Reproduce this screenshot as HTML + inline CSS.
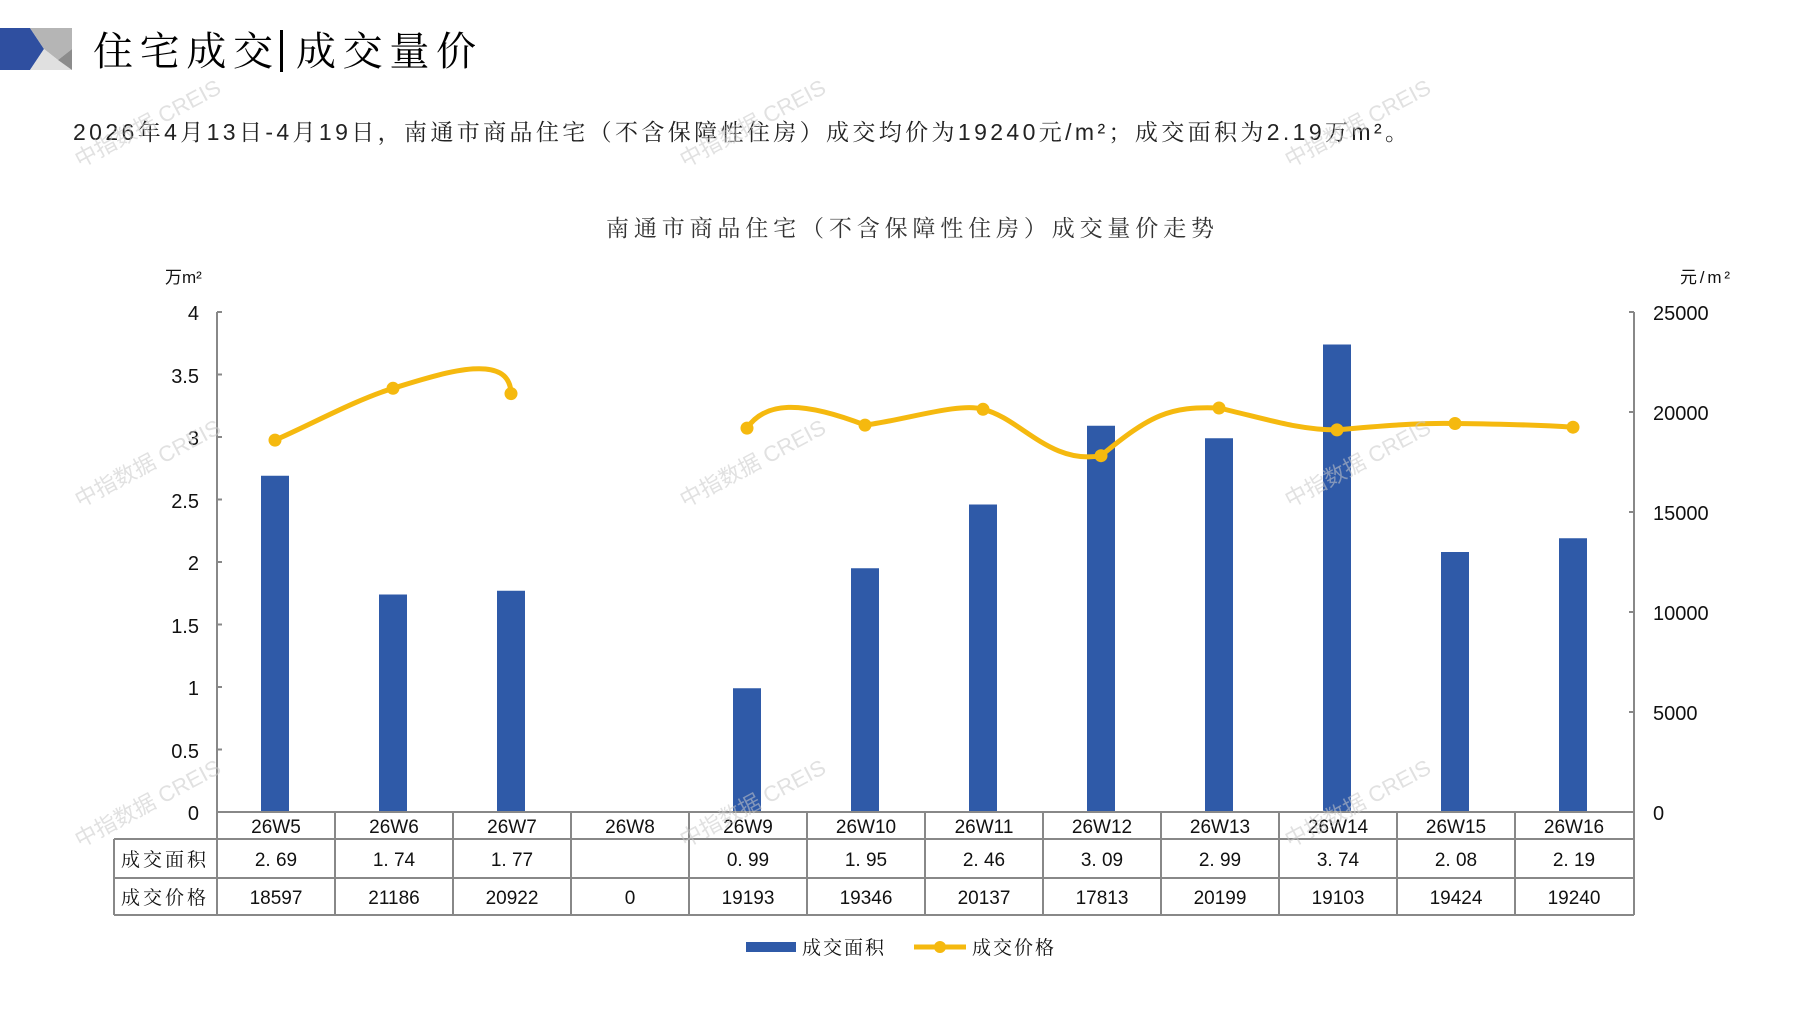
<!DOCTYPE html>
<html><head><meta charset="utf-8"><style>
html,body{margin:0;padding:0;background:#fff;}
svg{display:block;}
</style></head><body>
<svg width="1797" height="1010" viewBox="0 0 1797 1010" xmlns="http://www.w3.org/2000/svg" font-family="'Liberation Sans','Noto Sans CJK SC',sans-serif">
<!-- logo -->
<polygon points="0,28 30,28 44,49 30,70 0,70" fill="#2f4fa0"/>
<polygon points="44,49 30,28 72,28 72,49 58,60" fill="#b5b5b5"/>
<polygon points="30,70 44,49 58,60 72,70" fill="#e0e0e0"/>
<polygon points="58,60 72,49 72,70" fill="#8c8c8c"/>
<text x="93" y="65" font-size="40" font-family="'Noto Serif CJK SC',serif" fill="#000" textLength="180" lengthAdjust="spacing">住宅成交</text>
<rect x="280" y="30" width="3" height="42" fill="#000"/>
<text x="296" y="65" font-size="40" font-family="'Noto Serif CJK SC',serif" fill="#000" textLength="180" lengthAdjust="spacing">成交量价</text>
<text x="73" y="140" font-size="23" font-family="'Liberation Sans','Noto Serif CJK SC',serif" fill="#222" textLength="1335" lengthAdjust="spacing">2026年4月13日-4月19日，南通市商品住宅（不含保障性住房）成交均价为19240元/m²；成交面积为2.19万m²。</text>
<text x="606" y="236" font-size="23" font-family="'Noto Serif CJK SC',serif" fill="#333" textLength="608" lengthAdjust="spacing">南通市商品住宅（不含保障性住房）成交量价走势</text>
<!-- units -->
<text x="165" y="283" font-size="17" fill="#111">万m²</text>
<text x="1680" y="283" font-size="17" fill="#111" textLength="50" lengthAdjust="spacing">元/m²</text>
<!-- axes -->
<g stroke="#888" stroke-width="2" fill="none">
<line x1="217" y1="312" x2="217" y2="812"/>
<line x1="1634" y1="312" x2="1634" y2="812"/>
<line x1="217" y1="312" x2="222" y2="312"/><line x1="217" y1="374.5" x2="222" y2="374.5"/><line x1="217" y1="437" x2="222" y2="437"/><line x1="217" y1="499.5" x2="222" y2="499.5"/><line x1="217" y1="562" x2="222" y2="562"/><line x1="217" y1="624.5" x2="222" y2="624.5"/><line x1="217" y1="687" x2="222" y2="687"/><line x1="217" y1="749.5" x2="222" y2="749.5"/>
<line x1="1629" y1="312" x2="1634" y2="312"/><line x1="1629" y1="412" x2="1634" y2="412"/><line x1="1629" y1="512" x2="1634" y2="512"/><line x1="1629" y1="612" x2="1634" y2="612"/><line x1="1629" y1="712" x2="1634" y2="712"/>
</g>
<g font-size="20" fill="#111" text-anchor="end">
<text x="199" y="320">4</text><text x="199" y="383">3.5</text><text x="199" y="445">3</text><text x="199" y="508">2.5</text><text x="199" y="570">2</text><text x="199" y="633">1.5</text><text x="199" y="695">1</text><text x="199" y="758">0.5</text><text x="199" y="820">0</text>
</g>
<g font-size="20" fill="#111">
<text x="1653" y="320">25000</text><text x="1653" y="420">20000</text><text x="1653" y="520">15000</text><text x="1653" y="620">10000</text><text x="1653" y="720">5000</text><text x="1653" y="820">0</text>
</g>
<!-- bars -->
<g fill="#2f5aa8">
<rect x="261" y="475.75" width="28" height="336.25"/>
<rect x="379" y="594.5" width="28" height="217.5"/>
<rect x="497" y="590.75" width="28" height="221.25"/>
<rect x="733" y="688.25" width="28" height="123.75"/>
<rect x="851" y="568.25" width="28" height="243.75"/>
<rect x="969" y="504.5" width="28" height="307.5"/>
<rect x="1087" y="425.75" width="28" height="386.25"/>
<rect x="1205" y="438.25" width="28" height="373.75"/>
<rect x="1323" y="344.5" width="28" height="467.5"/>
<rect x="1441" y="552" width="28" height="260"/>
<rect x="1559" y="538.25" width="28" height="273.75"/>
</g>
<!-- line -->
<g stroke="#f5b90f" stroke-width="5" fill="none" stroke-linecap="round">
<path d="M275,440.1 C310,425 355,400 393,388.3 C440,374 510,350 511,393.6"/>
<path d="M747,428.1 C765,402 800,400 865,425.1 C905,420 960,402 983,409.3 C1020,418 1050,465 1101,455.7 C1150,415 1170,406 1219,408 C1270,420 1300,430 1337,429.9 C1400,424 1430,423 1455,423.5 C1500,424 1540,425 1573,427.2"/>
</g>
<g fill="#f5b90f">
<circle cx="275" cy="440.1" r="6.5"/><circle cx="393" cy="388.3" r="6.5"/><circle cx="511" cy="393.6" r="6.5"/>
<circle cx="747" cy="428.1" r="6.5"/><circle cx="865" cy="425.1" r="6.5"/><circle cx="983" cy="409.3" r="6.5"/><circle cx="1101" cy="455.7" r="6.5"/><circle cx="1219" cy="408" r="6.5"/><circle cx="1337" cy="429.9" r="6.5"/><circle cx="1455" cy="423.5" r="6.5"/><circle cx="1573" cy="427.2" r="6.5"/>
</g>
<!-- table -->
<g stroke="#888" stroke-width="2" fill="none">
<line x1="217" y1="812" x2="1634" y2="812"/>
<line x1="114" y1="839" x2="1634" y2="839"/>
<line x1="114" y1="878" x2="1634" y2="878"/>
<line x1="114" y1="915" x2="1634" y2="915"/>
<line x1="114" y1="839" x2="114" y2="915"/>
<line x1="217" y1="812" x2="217" y2="915"/><line x1="335" y1="812" x2="335" y2="915"/><line x1="453" y1="812" x2="453" y2="915"/><line x1="571" y1="812" x2="571" y2="915"/><line x1="689" y1="812" x2="689" y2="915"/><line x1="807" y1="812" x2="807" y2="915"/><line x1="925" y1="812" x2="925" y2="915"/><line x1="1043" y1="812" x2="1043" y2="915"/><line x1="1161" y1="812" x2="1161" y2="915"/><line x1="1279" y1="812" x2="1279" y2="915"/><line x1="1397" y1="812" x2="1397" y2="915"/><line x1="1515" y1="812" x2="1515" y2="915"/><line x1="1634" y1="812" x2="1634" y2="915"/>
</g>
<g font-size="19" fill="#111" text-anchor="middle">
<text x="276" y="833">26W5</text><text x="394" y="833">26W6</text><text x="512" y="833">26W7</text><text x="630" y="833">26W8</text><text x="748" y="833">26W9</text><text x="866" y="833">26W10</text><text x="984" y="833">26W11</text><text x="1102" y="833">26W12</text><text x="1220" y="833">26W13</text><text x="1338" y="833">26W14</text><text x="1456" y="833">26W15</text><text x="1574" y="833">26W16</text>
<text x="276" y="866">2. 69</text><text x="394" y="866">1. 74</text><text x="512" y="866">1. 77</text><text x="748" y="866">0. 99</text><text x="866" y="866">1. 95</text><text x="984" y="866">2. 46</text><text x="1102" y="866">3. 09</text><text x="1220" y="866">2. 99</text><text x="1338" y="866">3. 74</text><text x="1456" y="866">2. 08</text><text x="1574" y="866">2. 19</text>
<text x="276" y="904">18597</text><text x="394" y="904">21186</text><text x="512" y="904">20922</text><text x="630" y="904">0</text><text x="748" y="904">19193</text><text x="866" y="904">19346</text><text x="984" y="904">20137</text><text x="1102" y="904">17813</text><text x="1220" y="904">20199</text><text x="1338" y="904">19103</text><text x="1456" y="904">19424</text><text x="1574" y="904">19240</text>
</g>
<g font-size="19" fill="#111" font-family="'Noto Serif CJK SC',serif" letter-spacing="3">
<text x="121" y="866">成交面积</text><text x="121" y="904">成交价格</text>
</g>
<!-- legend -->
<rect x="746" y="942" width="50" height="10" fill="#2f5aa8"/>
<text x="802" y="954" font-size="19" font-family="'Noto Serif CJK SC',serif" letter-spacing="2" fill="#111">成交面积</text>
<line x1="914" y1="947" x2="966" y2="947" stroke="#f5b90f" stroke-width="5"/>
<circle cx="940" cy="947" r="6" fill="#f5b90f"/>
<text x="972" y="954" font-size="19" font-family="'Noto Serif CJK SC',serif" letter-spacing="2" fill="#111">成交价格</text>
<!-- watermarks -->
<g font-size="22" fill="#c8c8c8" opacity="0.55">
<text transform="translate(80,168) rotate(-28)">中指数据 CREIS</text>
<text transform="translate(685,168) rotate(-28)">中指数据 CREIS</text>
<text transform="translate(1290,168) rotate(-28)">中指数据 CREIS</text>
<text transform="translate(80,508) rotate(-28)">中指数据 CREIS</text>
<text transform="translate(685,508) rotate(-28)">中指数据 CREIS</text>
<text transform="translate(1290,508) rotate(-28)">中指数据 CREIS</text>
<text transform="translate(80,848) rotate(-28)">中指数据 CREIS</text>
<text transform="translate(685,848) rotate(-28)">中指数据 CREIS</text>
<text transform="translate(1290,848) rotate(-28)">中指数据 CREIS</text>
</g>
</svg>
</body></html>
